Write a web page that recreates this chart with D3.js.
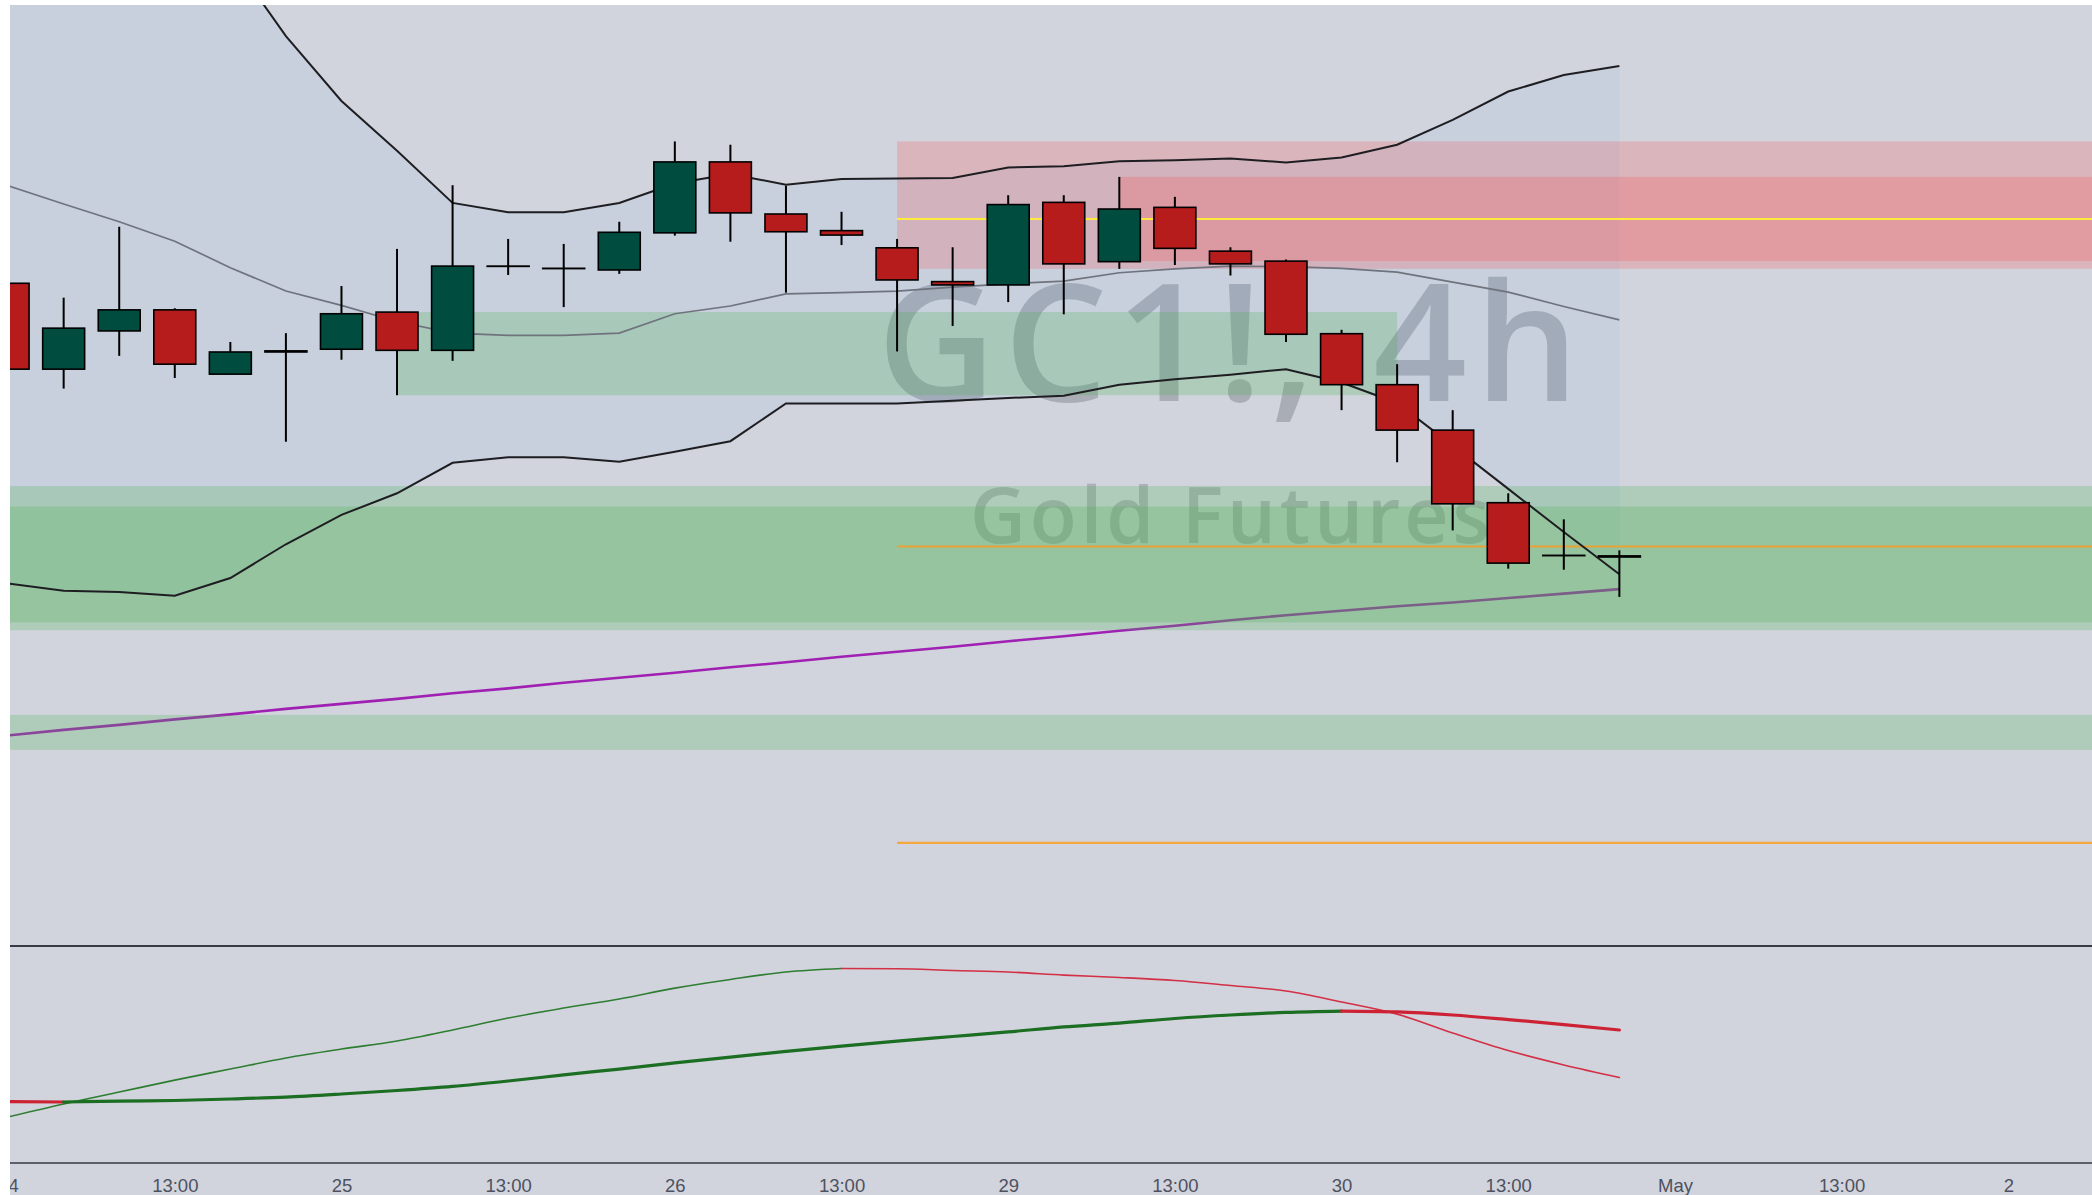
<!DOCTYPE html>
<html>
<head>
<meta charset="utf-8">
<title>GC1!, 4h</title>
<script src="https://d3js.org/d3.v7.min.js"></script>
<style>
  body { margin: 0; background: #ffffff; }
  svg { display: block; }
</style>
</head>
<body>
<div id="chart"></div>
<script>
// 4h bars, Apr 24 - Apr 30
var times = ["24 01:00", "24 05:00", "24 09:00", "24 13:00", "24 17:00", "24 21:00",
             "25 01:00", "25 05:00", "25 09:00", "25 13:00", "25 17:00", "25 21:00",
             "26 01:00", "26 05:00", "26 09:00", "26 13:00", "26 17:00", "26 21:00",
             "29 01:00", "29 05:00", "29 09:00", "29 13:00", "29 17:00", "29 21:00",
             "30 01:00", "30 05:00", "30 09:00", "30 13:00", "30 17:00", "30 21:00"];

var opens  = [2349.6, 2334.1, 2341.0, 2344.8, 2333.2, 2337.4, 2337.7, 2344.4, 2337.5, 2352.7,
              2352.3, 2352.0, 2358.7, 2371.5, 2362.1, 2359.1, 2356.0, 2349.9, 2349.3, 2364.2,
              2353.5, 2363.3, 2355.4, 2353.6, 2340.5, 2331.3, 2323.1, 2310.0, 2300.5, 2300.4];
var highs  = [2350.2, 2347.0, 2359.8, 2345.1, 2339.0, 2340.6, 2349.1, 2355.8, 2367.3, 2357.6,
              2356.7, 2360.7, 2375.2, 2374.6, 2367.2, 2362.5, 2357.6, 2356.1, 2365.5, 2365.5,
              2368.8, 2365.2, 2356.1, 2353.9, 2341.2, 2335.0, 2326.7, 2311.7, 2307.0, 2301.4];
var lows   = [2333.6, 2330.6, 2336.5, 2332.5, 2333.2, 2321.0, 2335.8, 2329.4, 2335.6, 2351.1,
              2345.3, 2351.3, 2358.2, 2357.1, 2347.9, 2356.5, 2337.3, 2341.9, 2346.2, 2344.0,
              2352.2, 2352.9, 2351.0, 2339.0, 2326.7, 2317.3, 2305.0, 2298.1, 2297.9, 2293.0];
var closes = [2334.1, 2341.5, 2344.8, 2335.0, 2337.2, 2337.2, 2344.1, 2337.5, 2352.7, 2352.7,
              2352.3, 2358.8, 2371.5, 2362.3, 2358.9, 2358.3, 2350.2, 2349.3, 2363.8, 2353.1,
              2363.0, 2355.9, 2353.1, 2340.4, 2331.3, 2323.1, 2309.8, 2299.1, 2300.5, 2300.2];

// bollinger bands
var bbUpper = [2439.0, 2433.7, 2427.5, 2421.2, 2408.4, 2394.2, 2382.5, 2373.5, 2364.1, 2362.4,
               2362.4, 2364.1, 2367.6, 2369.3, 2367.4, 2368.4, 2368.5, 2368.6, 2370.5, 2370.7,
               2371.6, 2371.8, 2372.1, 2371.4, 2372.3, 2374.6, 2379.1, 2384.2, 2387.2, 2388.8];
var bbBasis = [2367.2, 2363.9, 2360.7, 2357.2, 2352.4, 2348.2, 2345.6, 2342.7, 2340.6, 2340.2,
               2340.2, 2340.6, 2344.1, 2345.5, 2347.7, 2347.9, 2348.2, 2348.9, 2349.5, 2350.0,
               2351.5, 2352.2, 2352.7, 2352.6, 2352.3, 2351.6, 2349.8, 2348.0, 2345.4, 2343.0];
var bbLower = [2295.4, 2294.1, 2293.9, 2293.2, 2296.4, 2302.5, 2307.8, 2311.7, 2317.2, 2318.2,
               2318.2, 2317.4, 2319.2, 2321.1, 2327.9, 2327.9, 2327.9, 2328.4, 2328.9, 2329.3,
               2331.3, 2332.3, 2333.1, 2334.1, 2331.7, 2328.0, 2320.3, 2312.5, 2304.7, 2297.1];

// long moving average (purple)
var ema = [2268.0, 2269.0, 2269.9, 2270.9, 2271.8, 2272.8, 2273.7, 2274.6, 2275.6, 2276.5,
           2277.5, 2278.4, 2279.3, 2280.3, 2281.2, 2282.2, 2283.1, 2284.0, 2285.0, 2285.9,
           2286.9, 2287.8, 2288.8, 2289.7, 2290.5, 2291.3, 2292.0, 2292.8, 2293.6, 2294.4];

// lower pane oscillator
var oscFast = [21.2, 27.2, 32.7, 38.2, 43.3, 48.4, 52.5, 56.2, 61.3, 66.8,
               71.4, 75.6, 80.6, 84.6, 88.0, 89.6, 89.5, 88.7, 88.0, 86.6,
               85.5, 84.1, 81.8, 79.3, 74.2, 68.6, 59.9, 51.8, 45.2, 39.4];
var oscSlow = [28.3, 28.1, 28.5, 28.8, 29.5, 30.4, 31.8, 33.4, 35.3, 37.8,
               40.6, 43.3, 46.1, 48.8, 51.4, 53.9, 56.2, 58.3, 60.4, 62.7,
               64.5, 66.6, 68.2, 69.4, 70.0, 69.6, 68.2, 66.1, 63.8, 61.3];

// zones: [start bar, end bar, top price, bottom price]
var supplyZones = [[16, 40, 2375.2, 2352.2], [20, 40, 2368.8, 2353.6]];
var demandZones = [[7, 25, 2344.4, 2329.4], [-1, 40, 2313.0, 2287.0],
                   [-1, 40, 2309.3, 2288.4], [-1, 40, 2271.7, 2265.4]];
// horizontal levels: [start bar, price]
var yellowLevels = [[16, 2361.2]];
var orangeLevels = [[16, 2302.1], [16, 2248.6]];

// x axis
var tickBars = [0, 3, 6, 9, 12, 15, 18, 21, 24, 27, 30, 33, 36];
var tickLabels = ["24", "13:00", "25", "13:00", "26", "13:00", "29", "13:00", "30", "13:00", "May", "13:00", "2"];

var width = 2092, height = 1195;
var chartLeft = 10, chartTop = 5, mainBottom = 946, oscBottom = 1163;

var svg = d3.select('#chart')
  .append("svg")
    .attr("width", width)
    .attr("height", height);

var x = d3.scaleLinear().domain([0, 36]).range([8.1, 2008.3]);
var y = d3.scaleLinear().domain([2400, 2230]).range([4, 946]);
var yOsc = d3.scaleLinear().domain([0, 100]).range([1163, 946]);

var defs = svg.append("defs");
defs.append("clipPath").attr("id", "clipMain")
  .append("rect").attr("x", chartLeft).attr("y", chartTop).attr("width", width - chartLeft).attr("height", mainBottom - chartTop);
defs.append("clipPath").attr("id", "clipOsc")
  .append("rect").attr("x", chartLeft).attr("y", mainBottom).attr("width", width - chartLeft).attr("height", oscBottom - mainBottom);
defs.append("clipPath").attr("id", "clipAxis")
  .append("rect").attr("x", chartLeft).attr("y", oscBottom).attr("width", width - chartLeft).attr("height", height - oscBottom);

// background
svg.append("rect")
  .attr("x", chartLeft).attr("y", chartTop)
  .attr("width", width - chartLeft).attr("height", height - chartTop)
  .attr("fill", "#d1d4dc");

var main = svg.append("g").attr("clip-path", "url(#clipMain)");

// watermark
main.append("text")
  .attr("x", 877).attr("y", 401)
  .attr("textLength", 702).attr("lengthAdjust", "spacing")
  .style("font-family", "'Open Sans', 'Noto Sans', sans-serif")
  .style("font-size", "164px")
  .style("font-weight", 600)
  .attr("fill", "rgba(110,114,126,0.4)")
  .text("GC1!, 4h");
main.append("text")
  .attr("x", 970).attr("y", 543)
  .attr("textLength", 520).attr("lengthAdjust", "spacing")
  .style("font-family", "'Open Sans', 'Noto Sans', sans-serif")
  .style("font-size", "77px")
  .style("font-weight", 600)
  .attr("fill", "rgba(110,114,126,0.36)")
  .text("Gold Futures");

var idx = d3.range(times.length);

// band fill
main.append("path")
  .datum(idx)
  .attr("fill", "rgba(33,150,243,0.055)")
  .attr("d", d3.area()
    .x(function(i) { return x(i); })
    .y0(function(i) { return y(bbLower[i]); })
    .y1(function(i) { return y(bbUpper[i]); }));

// purple average
main.append("path")
  .datum(idx)
  .attr("fill", "none")
  .attr("stroke", "#a020b4")
  .attr("stroke-width", 2.6)
  .attr("d", d3.line().x(function(i) { return x(i); }).y(function(i) { return y(ema[i]); }));

// zones
function drawZones(zones, color) {
  main.selectAll(null)
    .data(zones)
    .enter()
    .append("rect")
      .attr("x", function(d) { return x(d[0]); })
      .attr("y", function(d) { return y(d[2]); })
      .attr("width", function(d) { return x(d[1]) - x(d[0]); })
      .attr("height", function(d) { return y(d[3]) - y(d[2]); })
      .attr("fill", color);
}
drawZones(demandZones, "rgba(76,175,80,0.25)");
drawZones(supplyZones, "rgba(255,60,60,0.2)");

function drawLevels(levels, color, w) {
  main.selectAll(null)
    .data(levels)
    .enter()
    .append("line")
      .attr("x1", function(d) { return x(d[0]); })
      .attr("x2", x(40))
      .attr("y1", function(d) { return y(d[1]); })
      .attr("y2", function(d) { return y(d[1]); })
      .attr("stroke", color)
      .attr("stroke-width", w);
}
drawLevels(yellowLevels, "#ffeb3b", 1.8);
drawLevels(orangeLevels, "rgba(255,155,25,0.8)", 2.2);

// bollinger lines
function bandLine(values, color, w) {
  main.append("path")
    .datum(idx)
    .attr("fill", "none")
    .attr("stroke", color)
    .attr("stroke-width", w)
    .attr("d", d3.line().x(function(i) { return x(i); }).y(function(i) { return y(values[i]); }));
}
bandLine(bbBasis, "#6f737e", 1.7);
bandLine(bbUpper, "#1e1e22", 2);
bandLine(bbLower, "#1e1e22", 2);

// candles
var bw = (x(1) - x(0)) * 0.755;
main.selectAll(".wick")
  .data(idx)
  .enter()
  .append("line")
    .attr("class", "wick")
    .attr("x1", function(i) { return x(i); })
    .attr("x2", function(i) { return x(i); })
    .attr("y1", function(i) { return y(highs[i]); })
    .attr("y2", function(i) { return y(lows[i]); })
    .attr("stroke", "#000")
    .attr("stroke-width", 2);

main.selectAll(".body")
  .data(idx)
  .enter()
  .append("rect")
    .attr("class", "body")
    .attr("x", function(i) { return x(i) - bw / 2; })
    .attr("y", function(i) { return y(Math.max(opens[i], closes[i])); })
    .attr("width", bw)
    .attr("height", function(i) { return Math.max(Math.abs(y(opens[i]) - y(closes[i])), 0.3); })
    .attr("fill", function(i) { return closes[i] >= opens[i] ? "#004d40" : "#b71c1c"; })
    .attr("stroke", "#000")
    .attr("stroke-width", 1.6);

// oscillator pane
var osc = svg.append("g").attr("clip-path", "url(#clipOsc)");

function oscLine(values, up, down, w) {
  // split into runs of rising / falling segments
  var runs = [];
  for (var j = 0; j < values.length - 1; j++) {
    var c = values[j + 1] >= values[j] ? up : down;
    if (runs.length && runs[runs.length - 1].color == c) runs[runs.length - 1].pts.push(j + 1);
    else runs.push({ color: c, pts: [j, j + 1] });
  }
  var line = d3.line().curve(d3.curveMonotoneX)
    .x(function(i) { return x(i); })
    .y(function(i) { return yOsc(values[i]); });
  osc.selectAll(null)
    .data(runs)
    .enter()
    .append("path")
      .attr("fill", "none")
      .attr("stroke", function(r) { return r.color; })
      .attr("stroke-width", w)
      .attr("stroke-linecap", "round")
      .attr("d", function(r) { return line(r.pts); });
}
oscLine(oscFast, "#2e7d32", "#d32f45", 1.6);
oscLine(oscSlow, "#1b6e22", "#cc2233", 3.2);

// pane separators
svg.append("line")
  .attr("x1", chartLeft).attr("x2", width)
  .attr("y1", mainBottom).attr("y2", mainBottom)
  .attr("stroke", "#363a45").attr("stroke-width", 1.8);
svg.append("line")
  .attr("x1", chartLeft).attr("x2", width)
  .attr("y1", oscBottom).attr("y2", oscBottom)
  .attr("stroke", "#5d606b").attr("stroke-width", 1.8);

// time axis (clip on outer group, axis translated inside)
var xAxis = svg.append("g")
  .attr("clip-path", "url(#clipAxis)")
  .append("g")
  .attr("transform", "translate(0," + oscBottom + ")")
  .call(d3.axisBottom(x)
    .tickValues(tickBars)
    .tickFormat(function(d, i) { return tickLabels[i]; })
    .tickSize(0)
    .tickPadding(15.5));
xAxis.select(".domain").remove();
xAxis.selectAll("text")
  .style("font-family", "'Liberation Sans', Arial, sans-serif")
  .style("font-size", "18.5px")
  .attr("fill", "#4e5160");
</script>
</body>
</html>
